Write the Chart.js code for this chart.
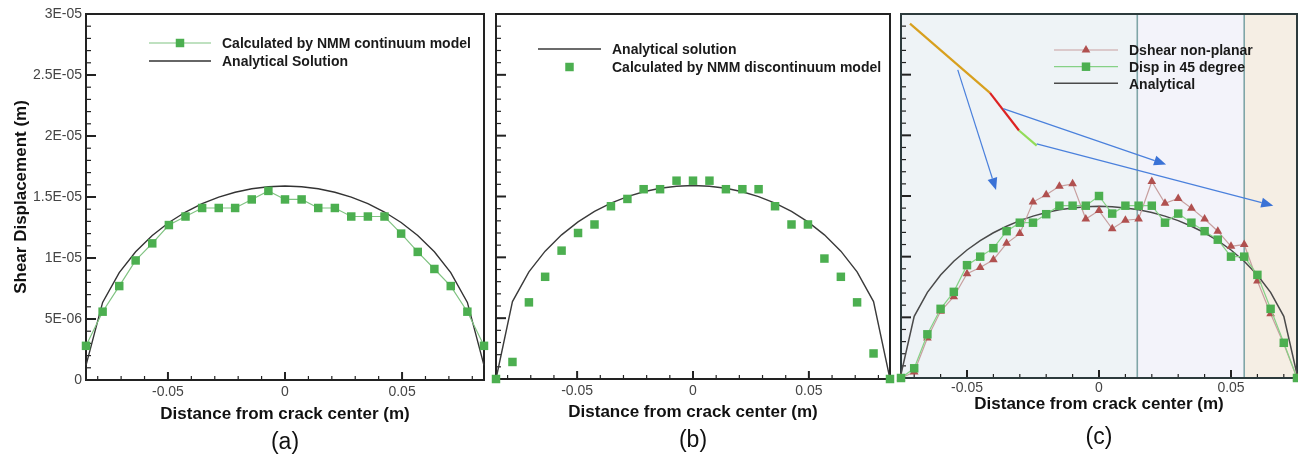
<!DOCTYPE html>
<html>
<head>
<meta charset="utf-8">
<script src="https://cdn.jsdelivr.net/npm/chart.js@4/dist/chart.umd.min.js"></script>
<style>
  html, body { margin: 0; padding: 0; background: #fff; }
  #figure { position: relative; width: 1298px; height: 456px; overflow: hidden; }
  #figure canvas { position: absolute; top: 0; }
</style>
</head>
<body>
<div id="figure">
  <canvas id="panelA" style="left:0px" width="490" height="456"></canvas>
  <canvas id="panelB" style="left:490px" width="406" height="456"></canvas>
  <canvas id="panelC" style="left:895px" width="408" height="456"></canvas>
</div>
<script>
// distances from crack center (m), panels (a) and (b)
const xAB = [-0.085, -0.0779, -0.0708, -0.0638, -0.0567, -0.0496, -0.0425, -0.0354, -0.0283, -0.0213, -0.0142, -0.0071, 0,
  0.0071, 0.0142, 0.0213, 0.0283, 0.0354, 0.0425, 0.0496, 0.0567, 0.0638, 0.0708, 0.0779, 0.085]

// shear displacement, in units of 1E-06 m
const nmmContinuum = [2.8, 5.6, 7.7, 9.8, 11.2, 12.7, 13.4, 14.1, 14.1, 14.1, 14.8, 15.5, 14.8,
  14.8, 14.1, 14.1, 13.4, 13.4, 13.4, 12.0, 10.5, 9.1, 7.7, 5.6, 2.8]
const analyticalA = [1.2, 6.36, 8.8, 10.51, 11.85, 12.91, 13.77, 14.45, 14.99, 15.39, 15.68, 15.84, 15.9,
  15.84, 15.68, 15.39, 14.99, 14.45, 13.77, 12.91, 11.85, 10.51, 8.8, 6.36, 1.2]

const nmmDiscontinuum = [0, 1.4, 6.3, 8.4, 10.55, 12.0, 12.7, 14.2, 14.8, 15.6, 15.6, 16.3, 16.3,
  16.3, 15.6, 15.6, 15.6, 14.2, 12.7, 12.7, 9.9, 8.4, 6.3, 2.1, 0]
const analyticalB = [0, 6.36, 8.8, 10.51, 11.85, 12.91, 13.77, 14.45, 14.99, 15.39, 15.68, 15.84, 15.9,
  15.84, 15.68, 15.39, 14.99, 14.45, 13.77, 12.91, 11.85, 10.51, 8.8, 6.36, 0]

// panel (c)
const xC = [-0.075, -0.07, -0.065, -0.06, -0.055, -0.05, -0.045, -0.04, -0.035, -0.03, -0.025, -0.02, -0.015, -0.01, -0.005, 0,
  0.005, 0.01, 0.015, 0.02, 0.025, 0.03, 0.035, 0.04, 0.045, 0.05, 0.055, 0.06, 0.065, 0.07, 0.075]
const dshearNonPlanar = [0, 0.5, 3.3, 5.5, 6.7, 8.6, 9.1, 9.75, 11.1, 11.9, 14.5, 15.1, 15.8, 16.0, 13.1, 13.8,
  12.3, 13.0, 13.1, 16.2, 14.4, 14.8, 14.0, 13.1, 12.1, 10.85, 11.0, 8.0, 5.3, 2.8, 0]
const disp45 = [0, 0.8, 3.6, 5.7, 7.1, 9.3, 10.0, 10.7, 12.1, 12.8, 12.8, 13.5, 14.2, 14.2, 14.2, 15.0,
  13.55, 14.2, 14.2, 14.2, 12.8, 13.55, 12.8, 12.1, 11.4, 10.0, 10.0, 8.5, 5.7, 2.9, 0]
const analyticalC = [0.3, 5.08, 7.06, 8.49, 9.62, 10.55, 11.32, 11.97, 12.51, 12.97, 13.34, 13.64, 13.86, 14.02, 14.12, 14.15,
  14.12, 14.02, 13.86, 13.64, 13.34, 12.97, 12.51, 11.97, 11.32, 10.55, 9.62, 8.49, 7.06, 5.08, 0.3]

// crack sketch and arrows drawn inside (c), in data units
const zoneEdgesC = [-0.075, 0.0145, 0.055, 0.075]
const crackTrace = [[-0.0716, 29.2], [-0.0413, 23.5], [-0.0303, 20.4], [-0.0236, 19.15]]
const arrowsC = [
  [[-0.0535, 25.4], [-0.039, 15.5]],
  [[-0.0363, 22.2], [0.0254, 17.6]],
  [[-0.0236, 19.3], [0.066, 14.2]],
]

const xTicks = [-0.05, 0, 0.05]
const yTicks = [0, 5, 10, 15, 20, 25, 30]

const FONT = "'Liberation Sans', Arial, Helvetica, sans-serif"
Chart.defaults.font.family = FONT

const pts = (xs, ys) => xs.map((x, i) => ({ x, y: ys[i] }))
const fmtX = (v) => (v === 0 ? "0" : v.toFixed(2))
const fmtSci = (v) => {
  if (v === 0) return "0"
  const m = v * 1e-6
  const e = Math.floor(Math.log10(m) + 1e-9)
  const mant = +(m / Math.pow(10, e)).toFixed(2)
  return `${mant}E-${String(-e).padStart(2, "0")}`
}

function marker(ctx, style, x, y, r, color) {
  ctx.fillStyle = color
  ctx.beginPath()
  if (style === "rect") {
    const h = Math.SQRT1_2 * r
    ctx.rect(x - h, y - h, 2 * h, 2 * h)
  } else {
    ctx.moveTo(x, y - r)
    ctx.lineTo(x + r * Math.sin(Math.PI * 2 / 3), y - r * Math.cos(Math.PI * 2 / 3))
    ctx.lineTo(x + r * Math.sin(Math.PI * 4 / 3), y - r * Math.cos(Math.PI * 4 / 3))
    ctx.closePath()
  }
  ctx.fill()
}

function arrow(ctx, x0, y0, x1, y1) {
  const ang = Math.atan2(y1 - y0, x1 - x0)
  const len = 12, half = 5
  const bx = x1 - Math.cos(ang) * len, by = y1 - Math.sin(ang) * len
  ctx.beginPath()
  ctx.moveTo(x0, y0)
  ctx.lineTo(bx, by)
  ctx.stroke()
  ctx.beginPath()
  ctx.moveTo(x1, y1)
  ctx.lineTo(bx + Math.sin(ang) * half, by - Math.cos(ang) * half)
  ctx.lineTo(bx - Math.sin(ang) * half, by + Math.cos(ang) * half)
  ctx.closePath()
  ctx.fill()
}

// frame, inward ticks, shaded zones, legend and titles for one panel
const decor = (cfg) => ({
  id: "decor",
  beforeDatasetsDraw(chart) {
    const { ctx, chartArea: a } = chart
    const sx = chart.scales.x, sy = chart.scales.y
    ctx.save()

    if (cfg.zones) {
      cfg.zones.forEach((color, i) => {
        const x0 = sx.getPixelForValue(zoneEdgesC[i])
        const x1 = sx.getPixelForValue(zoneEdgesC[i + 1])
        ctx.fillStyle = color
        ctx.fillRect(x0, a.top, x1 - x0, a.bottom - a.top)
      })
      ctx.strokeStyle = "#7fa5a7"
      ctx.lineWidth = 1.6
      zoneEdgesC.slice(1, -1).forEach((v) => {
        const px = sx.getPixelForValue(v)
        ctx.beginPath()
        ctx.moveTo(px, a.top)
        ctx.lineTo(px, a.bottom)
        ctx.stroke()
      })

      const segColors = ["#d8a01e", "#dd2222", "#92dc58"]
      ctx.lineWidth = 2.2
      for (let i = 0; i < crackTrace.length - 1; i++) {
        ctx.strokeStyle = segColors[i]
        ctx.beginPath()
        ctx.moveTo(sx.getPixelForValue(crackTrace[i][0]), sy.getPixelForValue(crackTrace[i][1]))
        ctx.lineTo(sx.getPixelForValue(crackTrace[i + 1][0]), sy.getPixelForValue(crackTrace[i + 1][1]))
        ctx.stroke()
      }

      ctx.strokeStyle = "#4a80dc"
      ctx.fillStyle = "#3a72d6"
      ctx.lineWidth = 1.2
      arrowsC.forEach(([p, q]) => {
        arrow(ctx, sx.getPixelForValue(p[0]), sy.getPixelForValue(p[1]),
          sx.getPixelForValue(q[0]), sy.getPixelForValue(q[1]))
      })
    }

    // ticks point into the plot from the left and bottom axes
    ctx.strokeStyle = "#222"
    for (let v = 0; v <= 30; v++) {
      const py = sy.getPixelForValue(v)
      const major = v % 5 === 0
      ctx.lineWidth = major ? 2 : 1.2
      ctx.beginPath()
      ctx.moveTo(a.left, py)
      ctx.lineTo(a.left + (major ? 10 : 5), py)
      ctx.stroke()
    }
    for (let k = Math.ceil(sx.min / 0.01 - 1e-9); k * 0.01 <= sx.max + 1e-9; k++) {
      const px = sx.getPixelForValue(k * 0.01)
      const major = k % 5 === 0
      ctx.lineWidth = major ? 2 : 1.2
      ctx.beginPath()
      ctx.moveTo(px, a.bottom)
      ctx.lineTo(px, a.bottom - (major ? 8 : 4))
      ctx.stroke()
    }

    ctx.strokeStyle = cfg.frameColor
    ctx.lineWidth = 2
    ctx.strokeRect(a.left, a.top, a.right - a.left, a.bottom - a.top)
    ctx.restore()
  },
  afterDraw(chart) {
    const { ctx, chartArea: a } = chart
    const cx = (a.left + a.right) / 2
    ctx.save()
    ctx.fillStyle = "#111"
    ctx.textAlign = "center"
    ctx.textBaseline = "alphabetic"
    ctx.font = `bold 17px ${FONT}`
    ctx.fillText("Distance from crack center (m)", cx, cfg.xTitleBase)
    ctx.font = `23px ${FONT}`
    ctx.fillText(cfg.tag, cx, cfg.tagBase)

    if (cfg.yTitle) {
      ctx.save()
      ctx.translate(26, (a.top + a.bottom) / 2)
      ctx.rotate(-Math.PI / 2)
      ctx.font = `bold 17px ${FONT}`
      ctx.fillText(cfg.yTitle, 0, 0)
      ctx.restore()
    }

    // legend
    const lg = cfg.legend
    ctx.translate(-cfg.offset, 0)
    lg.rows.forEach((row) => {
      const ds = chart.data.datasets[row.ds]
      if (ds.showLine) {
        ctx.strokeStyle = ds.borderColor
        ctx.lineWidth = ds.borderWidth
        ctx.beginPath()
        ctx.moveTo(lg.lineX[0], row.y)
        ctx.lineTo(lg.lineX[1], row.y)
        ctx.stroke()
      }
      if (ds.pointRadius > 0) {
        marker(ctx, ds.pointStyle, (lg.lineX[0] + lg.lineX[1]) / 2, row.y, ds.pointRadius, ds.pointBackgroundColor)
      }
      ctx.fillStyle = "#1a1a1a"
      ctx.textAlign = "left"
      ctx.font = `bold 14px ${FONT}`
      ctx.fillText(row.label, lg.textX, row.y + 5.3)
    })
    ctx.restore()
  },
})

function makePanel(id, p) {
  return new Chart(document.getElementById(id), {
    type: "scatter",
    data: { datasets: p.datasets },
    options: {
      responsive: false,
      animation: false,
      devicePixelRatio: 1,
      layout: { padding: p.padding },
      plugins: { legend: { display: false }, tooltip: { enabled: false } },
      scales: {
        x: {
          type: "linear",
          min: p.xMin,
          max: p.xMax,
          grid: { display: false, drawTicks: false },
          border: { display: false },
          afterBuildTicks: (s) => { s.ticks = xTicks.map((value) => ({ value })) },
          afterFit: (s) => { s.height = p.xAxisHeight },
          ticks: {
            color: "#444",
            font: { size: 14 },
            padding: p.xTickPad,
            maxRotation: 0,
            autoSkip: false,
            callback: (v) => fmtX(v),
          },
        },
        y: {
          type: "linear",
          min: 0,
          max: 30,
          display: p.yLabels,
          grid: { display: false, drawTicks: false },
          border: { display: false },
          afterBuildTicks: (s) => { s.ticks = yTicks.map((value) => ({ value })) },
          afterFit: (s) => { s.width = p.yAxisWidth || 0 },
          ticks: {
            color: "#444",
            font: { size: 14 },
            padding: 4,
            callback: (v) => fmtSci(v),
          },
        },
      },
    },
    plugins: [decor(p.decor)],
  })
}

makePanel("panelA", {
  xMin: -0.085, xMax: 0.085,
  padding: { left: 0, right: 6, top: 14, bottom: 0 },
  xAxisHeight: 76, xTickPad: 4,
  yLabels: true, yAxisWidth: 86,
  datasets: [
    {
      data: pts(xAB, nmmContinuum), showLine: true, order: 0, clip: false,
      borderColor: "#80c382", borderWidth: 1.2,
      pointStyle: "rect", pointRadius: 6, pointBackgroundColor: "#4caf50", pointBorderWidth: 0,
    },
    {
      data: pts(xAB, analyticalA), showLine: true, order: 1, clip: false,
      borderColor: "#333", borderWidth: 1.4, pointRadius: 0,
    },
  ],
  decor: {
    offset: 0, frameColor: "#222", tag: "(a)", xTitleBase: 419, tagBase: 449,
    yTitle: "Shear Displacement (m)",
    legend: {
      lineX: [149, 211], textX: 222,
      rows: [
        { ds: 0, label: "Calculated by NMM continuum model", y: 43 },
        { ds: 1, label: "Analytical Solution", y: 61 },
      ],
    },
  },
})

makePanel("panelB", {
  xMin: -0.085, xMax: 0.085,
  padding: { left: 5, right: 6, top: 14, bottom: 0 },
  xAxisHeight: 77, xTickPad: 4,
  yLabels: false,
  datasets: [
    {
      data: pts(xAB, nmmDiscontinuum), showLine: false, order: 0, clip: false,
      pointStyle: "rect", pointRadius: 6, pointBackgroundColor: "#4caf50", pointBorderWidth: 0,
    },
    {
      data: pts(xAB, analyticalB), showLine: true, order: 1, clip: false,
      borderColor: "#3a3a3a", borderWidth: 1.4, pointRadius: 0,
    },
  ],
  decor: {
    offset: 490, frameColor: "#222", tag: "(b)", xTitleBase: 416.5, tagBase: 446.5,
    legend: {
      lineX: [538, 601], textX: 612,
      rows: [
        { ds: 1, label: "Analytical solution", y: 49 },
        { ds: 0, label: "Calculated by NMM discontinuum model", y: 67 },
      ],
    },
  },
})

makePanel("panelC", {
  xMin: -0.075, xMax: 0.075,
  padding: { left: 6, right: 6, top: 14, bottom: 0 },
  xAxisHeight: 78, xTickPad: 2,
  yLabels: false,
  datasets: [
    {
      data: pts(xC, disp45), showLine: true, order: 0, clip: false,
      borderColor: "#86d186", borderWidth: 1.2,
      pointStyle: "rect", pointRadius: 6, pointBackgroundColor: "#4caf50", pointBorderWidth: 0,
    },
    {
      data: pts(xC, dshearNonPlanar), showLine: true, order: 1, clip: false,
      borderColor: "#c79f9f", borderWidth: 1.2,
      pointStyle: "triangle", pointRadius: 5, pointBackgroundColor: "#b0504f", pointBorderWidth: 0,
    },
    {
      data: pts(xC, analyticalC), showLine: true, order: 2, clip: false,
      borderColor: "#4a4a4a", borderWidth: 1.5, pointRadius: 0,
    },
  ],
  decor: {
    offset: 895, frameColor: "#2c3a3c", tag: "(c)", xTitleBase: 409, tagBase: 444,
    zones: ["#eef3f6", "#f3f3fa", "#f5eee4"],
    legend: {
      lineX: [1054, 1118], textX: 1129,
      rows: [
        { ds: 1, label: "Dshear non-planar", y: 50 },
        { ds: 0, label: "Disp in 45 degree", y: 66.7 },
        { ds: 2, label: "Analytical", y: 83.3 },
      ],
    },
  },
})
</script>
</body>
</html>
